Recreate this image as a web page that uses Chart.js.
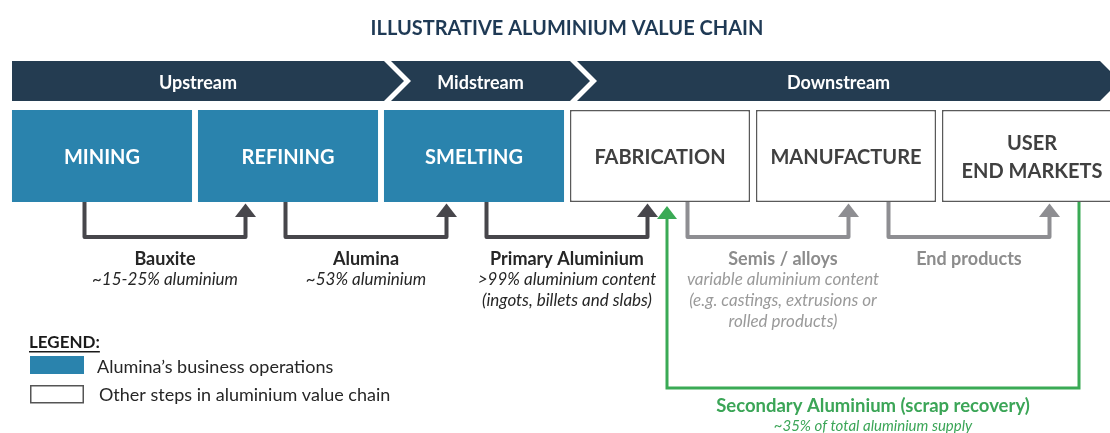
<!DOCTYPE html>
<html>
<head>
<meta charset="utf-8">
<script src="https://cdn.jsdelivr.net/npm/chart.js@4.4.1/dist/chart.umd.min.js"></script>
<style>
html, body { margin: 0; padding: 0; background: #fff; overflow: hidden; }
#wrap { width: 1130px; height: 433px; }
</style>
</head>
<body>
<div id="wrap"><canvas id="chain" width="1130" height="433"></canvas></div>
<script>
// ---- data ----
const chartTitle = 'ILLUSTRATIVE ALUMINIUM VALUE CHAIN';
const stages = ['MINING', 'REFINING', 'SMELTING', 'FABRICATION', 'MANUFACTURE', ['USER', 'END MARKETS']];
const aluminaOps = [true, true, true, false, false, false];
const streams = ['Upstream', 'Midstream', 'Downstream'];
const streamStages = [2, 1, 3];
const flowNames = ['Bauxite', 'Alumina', 'Primary Aluminium', 'Semis / alloys', 'End products'];
const flowNotes = [
  ['~15-25% aluminium'],
  ['~53% aluminium'],
  ['>99% aluminium content', '(ingots, billets and slabs)'],
  ['variable aluminium content', '(e.g. castings, extrusions or', 'rolled products)'],
  []
];
const legendLabels = ['Alumina\u2019s business operations', 'Other steps in aluminium value chain'];
const recycleName = 'Secondary Aluminium (scrap recovery)';
const recycleNote = '~35% of total aluminium supply';
const recycleFrom = 5;
const recycleTo = 3;

// ---- look ----
const NAVY = '#243c51';
const BLUE = '#2a83ad';
const DARK = '#47464b';
const GREY = '#8e8e92';
const GREEN = '#3aaa55';
const FONT = 'Lato, "Open Sans", sans-serif';
const boxTop = 110, boxBottom = 202;
const bannerTop = 61, bannerBottom = 101;
const flowY = 237;
const flowDrift = 15;      // flow arrows are spaced a little wider than the boxes
const labelShift = [0, 0, 0, 15, 0];

function font(style, size) {
  return style + ' ' + size + 'px ' + FONT;
}

function arrowHead(ctx, x, tipY, baseY, half) {
  ctx.beginPath();
  ctx.moveTo(x, tipY);
  ctx.lineTo(x + half, baseY);
  ctx.lineTo(x - half, baseY);
  ctx.closePath();
  ctx.fill();
}

const chainPlugin = {
  id: 'chain',
  beforeDatasetsDraw(chart) {
    const ctx = chart.ctx;
    const x = chart.scales.x;
    const area = chart.chartArea;
    const w = x.getPixelForValue(1) - x.getPixelForValue(0);

    ctx.save();
    ctx.textAlign = 'center';
    ctx.textBaseline = 'middle';

    // title
    ctx.fillStyle = '#1f3a55';
    ctx.font = font('bold', 20);
    ctx.fillText(chartTitle, (area.left + area.right) / 2, 29);

    // stream banner
    const mid = (bannerTop + bannerBottom) / 2;
    const tip = mid - bannerTop;
    let first = 0, prevR = 0;
    streams.forEach((name, s) => {
      const last = first + streamStages[s] - 1;
      const rightEdge = x.getPixelForValue(last) + w / 2;
      const L = s === 0 ? x.getPixelForValue(0) - w * 0.968 / 2 : prevR + 7;
      const R = s === streams.length - 1 ? rightEdge - 25 : rightEdge + 3;
      ctx.fillStyle = NAVY;
      ctx.beginPath();
      ctx.moveTo(L, bannerTop);
      ctx.lineTo(R, bannerTop);
      ctx.lineTo(R + tip, mid);
      ctx.lineTo(R, bannerBottom);
      ctx.lineTo(L, bannerBottom);
      if (s > 0) ctx.lineTo(L + tip, mid);
      ctx.closePath();
      ctx.fill();
      ctx.fillStyle = '#fff';
      ctx.font = font('bold', 18);
      ctx.fillText(name, (L + R) / 2, mid + 2);
      prevR = R;
      first = last + 1;
    });
    ctx.restore();
  },
  afterDatasetsDraw(chart) {
    const ctx = chart.ctx;
    const x = chart.scales.x;
    const w = x.getPixelForValue(1) - x.getPixelForValue(0);

    ctx.save();
    ctx.textAlign = 'center';
    ctx.textBaseline = 'middle';

    // stage names inside the boxes
    chart.data.datasets.forEach((ds, d) => {
      chart.getDatasetMeta(d).data.forEach((el, i) => {
        if (!ds.data[i]) return;
        const lines = [].concat(stages[i]);
        const cy = (el.y + el.base) / 2 + 2;
        ctx.fillStyle = aluminaOps[i] ? '#fff' : '#404040';
        ctx.font = font('bold', 20);
        lines.forEach((t, j) => {
          ctx.fillText(t, el.x, cy + (j - (lines.length - 1) / 2) * 28);
        });
      });
    });

    // flows between stages: centred near the boundary of stage k and k+1
    const centre = (flowNames.length - 1) / 2;
    flowNames.forEach((name, k) => {
      const m = x.getPixelForValue(k) + w / 2 + (k - centre) * flowDrift;
      const x0 = m - 80.5, x1 = m + 80.5;
      const col = aluminaOps[k] ? DARK : GREY;
      ctx.strokeStyle = col;
      ctx.fillStyle = col;
      ctx.lineWidth = 4;
      ctx.lineJoin = 'round';
      ctx.beginPath();
      ctx.moveTo(x0, boxBottom);
      ctx.lineTo(x0, flowY);
      ctx.lineTo(x1, flowY);
      ctx.lineTo(x1, 215);
      ctx.stroke();
      arrowHead(ctx, x1, 203.5, 217, 10.5);

      const lx = m + labelShift[k];
      ctx.fillStyle = aluminaOps[k] ? '#262626' : '#8c8c8c';
      ctx.font = font('bold', 18);
      ctx.fillText(name, lx, 259);
      ctx.fillStyle = aluminaOps[k] ? '#262626' : '#9a9a9a';
      ctx.font = font('italic', 17);
      flowNotes[k].forEach((t, j) => ctx.fillText(t, lx, 280 + j * 21));
    });

    // secondary aluminium loop
    const xs = x.getPixelForValue(recycleFrom) + 47;
    const xe = x.getPixelForValue(recycleTo) + 7;
    ctx.strokeStyle = GREEN;
    ctx.fillStyle = GREEN;
    ctx.lineWidth = 3;
    ctx.lineJoin = 'miter';
    ctx.beginPath();
    ctx.moveTo(xs, boxBottom);
    ctx.lineTo(xs, 388);
    ctx.lineTo(xe, 388);
    ctx.lineTo(xe, 216);
    ctx.stroke();
    arrowHead(ctx, xe, 206, 219, 10);
    ctx.fillStyle = '#3ba557';
    ctx.font = font('bold', 18.5);
    ctx.fillText(recycleName, (xs + xe) / 2, 406);
    ctx.font = font('italic', 15);
    ctx.fillText(recycleNote, (xs + xe) / 2, 426);

    // legend
    ctx.textAlign = 'left';
    ctx.fillStyle = '#1a1a1a';
    ctx.font = font('bold', 17);
    ctx.fillText('LEGEND:', 29, 343);
    const lw = ctx.measureText('LEGEND:').width;
    ctx.fillRect(29, 351, lw, 1.5);
    ctx.fillStyle = BLUE;
    ctx.fillRect(30, 356, 54, 18);
    ctx.fillStyle = '#fff';
    ctx.strokeStyle = '#555';
    ctx.lineWidth = 1.5;
    ctx.fillRect(30.75, 385.75, 52.5, 17);
    ctx.strokeRect(30.75, 385.75, 52.5, 17);
    ctx.fillStyle = '#262626';
    ctx.font = font('normal', 18);
    ctx.fillText(legendLabels[0], 97, 367);
    ctx.fillText(legendLabels[1], 99, 395);
    ctx.restore();
  }
};

new Chart(document.getElementById('chain'), {
  type: 'bar',
  data: {
    labels: stages,
    datasets: [
      {
        label: legendLabels[0],
        data: stages.map((s, i) => aluminaOps[i] ? [boxTop, boxBottom] : null),
        backgroundColor: BLUE,
        borderWidth: 0
      },
      {
        label: legendLabels[1],
        data: stages.map((s, i) => aluminaOps[i] ? null : [boxTop, boxBottom]),
        backgroundColor: '#fff',
        borderColor: '#5a5a5a',
        borderWidth: 1.5,
        borderSkipped: false
      }
    ]
  },
  options: {
    responsive: false,
    animation: false,
    events: [],
    grouped: false,
    categoryPercentage: 1,
    barPercentage: 0.968,
    layout: { padding: { left: 9, right: 5, top: 0, bottom: 0 } },
    scales: {
      x: { type: 'category', display: false, offset: true },
      y: { type: 'linear', display: false, min: 0, max: 433, reverse: true }
    },
    plugins: {
      legend: { display: false },
      tooltip: { enabled: false }
    }
  },
  plugins: [chainPlugin]
});
</script>
</body>
</html>
